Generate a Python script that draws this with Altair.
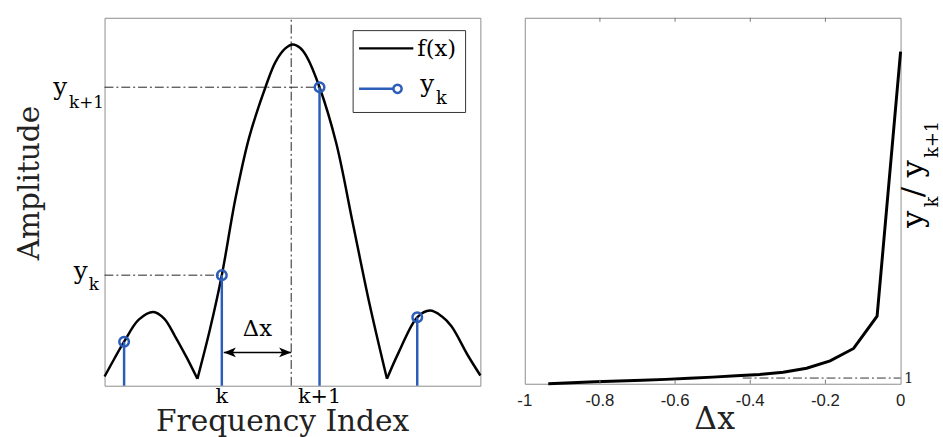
import altair as alt
import pandas as pd

SERIF = "DejaVu Serif"
SANS = "Liberation Sans"
BLUE = "#2c5db8"

# ---------------- left panel data ----------------
curve_x = [-1.2, -1.1, -1.0, -0.85, -0.7, -0.59, -0.48, -0.36, -0.25,
           -0.25, -0.12, 0.0, 0.14, 0.28, 0.45, 0.55, 0.65, 0.727, 0.80, 0.87, 1.0, 1.17, 1.34, 1.51, 1.69,
           1.69, 1.81, 2.0, 2.13, 2.25, 2.35, 2.52, 2.646]
curve_y = [0.007, 0.060, 0.111, 0.177, 0.200, 0.180, 0.128, 0.064, 0.0,
           0.0, 0.150, 0.310, 0.540, 0.722, 0.875, 0.948, 0.988, 1.0, 0.990, 0.963, 0.872, 0.706, 0.466, 0.226, 0.0,
           0.0, 0.079, 0.184, 0.204, 0.187, 0.157, 0.069, 0.010]
curve_lobe = ["a"] * 9 + ["b"] * 16 + ["c"] * 8

stem_x = [-1, 0, 1, 2]
stem_y = [0.111, 0.310, 0.872, 0.184]

tick_values = [0, 1]
tick_text = ["k", "k+1"]
peak_pos = 0.71
arrow_y = 0.079

ref_x1 = [-1.2, -1.2, peak_pos]
ref_x2 = [1.0, 0.0, peak_pos]
ref_y1 = [0.872, 0.310, -0.0206]
ref_y2 = [0.872, 0.310, 1.0796]

# ---------------- right panel data ----------------
dx_vals = [-0.9375, -0.875, -0.8125, -0.75, -0.6875, -0.625, -0.5625, -0.5,
           -0.4375, -0.375, -0.3125, -0.25, -0.1875, -0.125, -0.0625, 0.0]
ratio_vals = [0.70, 0.75, 0.80, 0.84, 0.88, 0.93, 0.99, 1.05,
              1.12, 1.19, 1.31, 1.52, 1.91, 2.56, 4.26, 18.22]
rx_ticks = [-1, -0.8, -0.6, -0.4, -0.2, 0]
rx_text = ["-1", "-0.8", "-0.6", "-0.4", "-0.2", "0"]

# ---------------- left panel ----------------
LY0, LY1 = -0.0206, 1.0796
xs = alt.Scale(domain=[-1.2, 2.646], nice=False, zero=False)
ys = alt.Scale(domain=[LY0, LY1], nice=False, zero=False)

curve_df = pd.DataFrame({"x": curve_x, "y": curve_y, "lobe": curve_lobe})
stem_df = pd.DataFrame({"x": stem_x, "y": stem_y})
ref_df = pd.DataFrame({"x": ref_x1, "x2": ref_x2, "y": ref_y1, "y2": ref_y2})
ktick_df = pd.DataFrame({"x": tick_values, "t": tick_text})
one = pd.DataFrame({"t": [""]})

x_axis = alt.Axis(labels=False, ticks=False, domain=False, grid=False,
                  title="Frequency Index", titleFont=SERIF, titleFontSize=30,
                  titleFontWeight="normal", titleColor="#222", titleX=180, titleY=45,
                  titleBaseline="alphabetic")
y_axis = alt.Axis(labels=False, ticks=False, domain=False, grid=False,
                  title="Amplitude", titleFont=SERIF, titleFontSize=30,
                  titleFontWeight="normal", titleColor="#222", titleAngle=270,
                  titleX=-67, titleY=167, titleBaseline="alphabetic", titleAlign="center")

refs = alt.Chart(ref_df).mark_rule(color="#222", strokeWidth=1, strokeDash=[9, 3, 2, 3]).encode(
    x=alt.X("x:Q", scale=xs, axis=x_axis), x2="x2:Q",
    y=alt.Y("y:Q", scale=ys, axis=y_axis), y2="y2:Q")

curve = alt.Chart(curve_df).mark_line(color="black", strokeWidth=2.5, interpolate="catmull-rom").encode(
    x=alt.X("x:Q", scale=xs), y=alt.Y("y:Q", scale=ys), detail="lobe:N")

stems = alt.Chart(stem_df).mark_rule(color=BLUE, strokeWidth=2.5).encode(
    x=alt.X("x:Q", scale=xs), y=alt.Y("y:Q", scale=ys), y2=alt.datum(LY0))
circles = alt.Chart(stem_df).mark_point(color=BLUE, filled=False, size=95, strokeWidth=2.5, opacity=1).encode(
    x=alt.X("x:Q", scale=xs), y=alt.Y("y:Q", scale=ys))

# tick labels k, k+1 drawn as text at their x positions
ktick = alt.Chart(ktick_df).mark_text(font=SERIF, fontSize=21, baseline="alphabetic", align="center",
                                      color="black", dy=18).encode(
    x=alt.X("x:Q", scale=xs), y=alt.datum(LY0), text="t:N")

arrow = alt.Chart(one).mark_rule(color="black", strokeWidth=1.5).encode(
    x=alt.datum(0.02), x2=alt.datum(peak_pos), y=alt.datum(arrow_y))
head_l = alt.Chart(one).mark_point(shape="M0,0L2,-0.8L1.5,0L2,0.8Z", filled=True, color="black",
                                   size=150, opacity=1).encode(x=alt.datum(0.02), y=alt.datum(arrow_y))
head_r = alt.Chart(one).mark_point(shape="M0,0L-2,-0.8L-1.5,0L-2,0.8Z", filled=True, color="black",
                                   size=150, opacity=1).encode(x=alt.datum(peak_pos), y=alt.datum(arrow_y))


def txt(text, x, y, size, align="left", baseline="alphabetic", dy=0, angle=0, font=SERIF, color="black"):
    return alt.Chart(pd.DataFrame({"t": [text]})).mark_text(
        font=font, fontSize=size, align=align, baseline=baseline, dy=dy, angle=angle, color=color
    ).encode(text="t:N", x=x, y=y)


dx_text = txt("Δx", alt.datum(0.364), alt.datum(0.127), 23, align="center")

ylab = [
    txt("y", alt.value(-38), alt.datum(0.872), 25, align="right", dy=8),
    txt("k+1", alt.value(-36), alt.datum(0.872), 17, dy=21),
    txt("y", alt.value(-17), alt.datum(0.310), 25, align="right", dy=4),
    txt("k", alt.value(-16), alt.datum(0.310), 17, dy=15),
]

legend = [
    alt.Chart(one).mark_rect(fill="white", stroke="#333", strokeWidth=1).encode(
        x=alt.value(252), x2=alt.value(366), y=alt.value(13), y2=alt.value(96)),
    alt.Chart(one).mark_rule(color="black", strokeWidth=2.5).encode(
        x=alt.value(258), x2=alt.value(313), y=alt.value(31)),
    txt("f(x)", alt.value(317), alt.value(32), 23, baseline="middle"),
    alt.Chart(one).mark_rule(color=BLUE, strokeWidth=2.5).encode(
        x=alt.value(258), x2=alt.value(293), y=alt.value(72)),
    alt.Chart(one).mark_point(color=BLUE, filled=False, size=70, strokeWidth=2.5, opacity=1).encode(
        x=alt.value(297), y=alt.value(72)),
    txt("y", alt.value(320), alt.value(75), 25),
    txt("k", alt.value(336), alt.value(87), 18),
]

left = alt.layer(refs, curve, stems, circles, ktick, arrow, head_l, head_r, dx_text, *ylab, *legend).properties(
    width=381, height=373)

# ---------------- right panel ----------------
RY0, RY1 = 0.7, 20.0
xs2 = alt.Scale(domain=[-1, 0], nice=False, zero=False)
ys2 = alt.Scale(domain=[RY0, RY1], nice=False, zero=False)

ratio_df = pd.DataFrame({"dx": dx_vals, "r": ratio_vals})
tick_df = pd.DataFrame({
    "x": [-0.8, -0.6, -0.4, -0.2] * 2,
    "y": [RY0] * 4 + [RY1] * 4,
    "y2": [RY0 + 0.21] * 4 + [RY1 - 0.21] * 4,
})
rtick_df = pd.DataFrame({"x": rx_ticks, "t": rx_text})

rx_axis = alt.Axis(labels=False, ticks=False, domain=False, grid=False,
                   title="Δx", titleFont=SERIF, titleFontSize=32, titleFontWeight="normal",
                   titleColor="#222", titleX=192, titleY=45, titleBaseline="alphabetic")
ry_axis = alt.Axis(orient="right", values=[1], labelFont=SERIF, labelFontSize=15, labelColor="#222",
                   labelPadding=3, ticks=False, domain=False, grid=False, title=None)

rline = alt.Chart(ratio_df).mark_line(color="black", strokeWidth=3).encode(
    x=alt.X("dx:Q", scale=xs2, axis=rx_axis), y=alt.Y("r:Q", scale=ys2, axis=ry_axis))
one_line = alt.Chart(one).mark_rule(color="#333", strokeWidth=1, strokeDash=[9, 3, 2, 3]).encode(
    x=alt.datum(-0.42), x2=alt.datum(0), y=alt.datum(1))
rticks = alt.Chart(tick_df).mark_rule(color="#777", strokeWidth=1).encode(
    x=alt.X("x:Q", scale=xs2), y=alt.Y("y:Q", scale=ys2), y2="y2:Q")
rticklab = alt.Chart(rtick_df).mark_text(font=SANS, fontSize=17, baseline="alphabetic", align="center",
                                         color="#222", dy=23).encode(
    x=alt.X("x:Q", scale=xs2), y=alt.datum(RY0), text="t:N")

rlab = [
    txt("y", alt.value(404), alt.value(213), 31, angle=270),
    txt("k", alt.value(419), alt.value(192), 18, angle=270),
    txt("/", alt.value(404), alt.value(182), 31, angle=270),
    txt("y", alt.value(404), alt.value(162), 31, angle=270),
    txt("k+1", alt.value(419), alt.value(142), 18, angle=270),
]

right = alt.layer(rline, rticks, one_line, rticklab, *rlab).properties(width=381, height=371)

chart = alt.hconcat(left, right, spacing=30).configure_view(
    stroke="#8c8c8c", strokeWidth=1).properties(
    padding={"left": 14, "top": 14, "right": 0, "bottom": 0}, background="white")

chart.save("out.html", embed_options={"renderer": "svg", "actions": False})
